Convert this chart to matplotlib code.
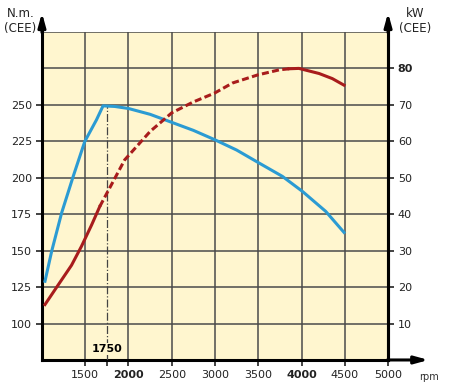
import numpy as np
import matplotlib.pyplot as plt

# curves
torque_rpm = [1035, 1112, 1227, 1361, 1495, 1630, 1706, 1841, 2000, 2250, 2500, 2750,
              3000, 3250, 3512, 3780, 4011, 4280, 4491]
torque_nm = [129, 149.5, 175.8, 200.9, 224.9, 239.7, 249.3, 248.9, 247.5, 243.5, 238, 232.5,
             226, 219, 210, 200.9, 190.6, 176.9, 162.5]

power_rpm = [1035, 1188, 1342, 1457, 1573, 1668, 1956, 2250, 2500, 2750, 2993, 3203,
             3492, 3742, 3857, 3970, 4203, 4356, 4491]
power_kw = [15.2, 20.6, 26.0, 31.2, 37.0, 42.1, 54.9, 62.7, 67.8, 70.8, 73.2, 76,
            78.2, 79.6, 79.9, 80, 78.6, 77.2, 75.4]
dash_from, dash_to = 5, 14  # index range drawn dashed

rpm_ticks = [1500, 2000, 2500, 3000, 3500, 4000, 4500, 5000]
nm_ticks = [100, 125, 150, 175, 200, 225, 250]
kw_ticks = [10, 20, 30, 40, 50, 60, 70, 80]
peak_rpm = 1750

blue = '#2b9bd3'
red = '#a81c1c'
bg = '#fff6cf'
grid_c = '#4a4a4a'

fig = plt.figure(figsize=(4.56, 3.85), dpi=100)
ax = fig.add_axes([0.092, 0.065, 0.759, 0.852])
ax.set_facecolor(bg)
ax.set_xlim(1000, 5000)
ax.set_ylim(75, 300)

for x in range(1500, 5000, 500):
    ax.axvline(x, color=grid_c, lw=1.1, zorder=1)
for y in range(100, 301, 25):
    ax.axhline(y, color=grid_c, lw=1.1, zorder=1)

ax.set_xticks(rpm_ticks)
ax.set_xticklabels([str(t) for t in rpm_ticks])
ax.set_xticks([peak_rpm], minor=True)
ax.set_yticks(nm_ticks)
ax.tick_params(axis='both', which='both', direction='out', length=4, width=1.2,
               labelsize=8, colors='#222222', pad=3)
for lab in ax.get_xticklabels():
    if lab.get_text() in ('2000', '4000'):
        lab.set_fontweight('bold')

ax.spines['top'].set_visible(False)
for s in ['left', 'bottom', 'right']:
    ax.spines[s].set_linewidth(2.2)
    ax.spines[s].set_color('black')

ax.plot(torque_rpm, torque_nm, color=blue, lw=2.2, zorder=4, solid_joinstyle='round')

ax2 = ax.twinx()
ax2.set_ylim(0, 90)
ax2.set_yticks(kw_ticks)
ax2.tick_params(axis='y', direction='out', length=4, width=1.2, labelsize=8,
                colors='#222222', pad=3)
for lab in ax2.get_yticklabels():
    if lab.get_text() == '80':
        lab.set_fontweight('bold')
for s in ['top', 'left', 'bottom']:
    ax2.spines[s].set_visible(False)
ax2.spines['right'].set_linewidth(2.2)

ax2.plot(power_rpm[:dash_from + 1], power_kw[:dash_from + 1], color=red, lw=2.2, zorder=4,
         solid_joinstyle='round')
ax2.plot(power_rpm[dash_from:dash_to + 1], power_kw[dash_from:dash_to + 1], color=red, lw=2.2,
         dashes=(2.3, 1.1), zorder=4)
ax2.plot(power_rpm[dash_to:], power_kw[dash_to:], color=red, lw=2.2, zorder=4,
         solid_joinstyle='round')

# peak marker line
ax.plot([peak_rpm, peak_rpm], [75, 250], color='#444444', lw=0.9, ls='-.', zorder=3)
ax.text(peak_rpm, 79, '1750', ha='center', va='bottom', fontsize=8, fontweight='bold',
        bbox=dict(facecolor=bg, edgecolor='none', pad=1), zorder=5)

# axis arrows
arr = dict(arrowstyle='-|>,head_width=0.22,head_length=0.8', color='black', lw=2.2)
ax.annotate('', xy=(0, 1.067), xytext=(0, 0.99), xycoords='axes fraction', arrowprops=arr,
            annotation_clip=False)
ax.annotate('', xy=(1, 1.067), xytext=(1, 0.99), xycoords='axes fraction', arrowprops=arr,
            annotation_clip=False)
ax.annotate('', xy=(1.125, 0), xytext=(0.99, 0), xycoords='axes fraction', arrowprops=arr,
            annotation_clip=False)

fig.text(0.045, 0.965, 'N.m.', ha='center', va='center', fontsize=8.5, color='#222222')
fig.text(0.045, 0.925, '(CEE)', ha='center', va='center', fontsize=8.5, color='#222222')
fig.text(0.91, 0.965, 'kW', ha='center', va='center', fontsize=8.5, color='#222222')
fig.text(0.91, 0.925, '(CEE)', ha='center', va='center', fontsize=8.5, color='#222222')
fig.text(0.94, 0.02, 'rpm', ha='center', va='center', fontsize=7, color='#333333')

fig.savefig('out.png', dpi=100)
